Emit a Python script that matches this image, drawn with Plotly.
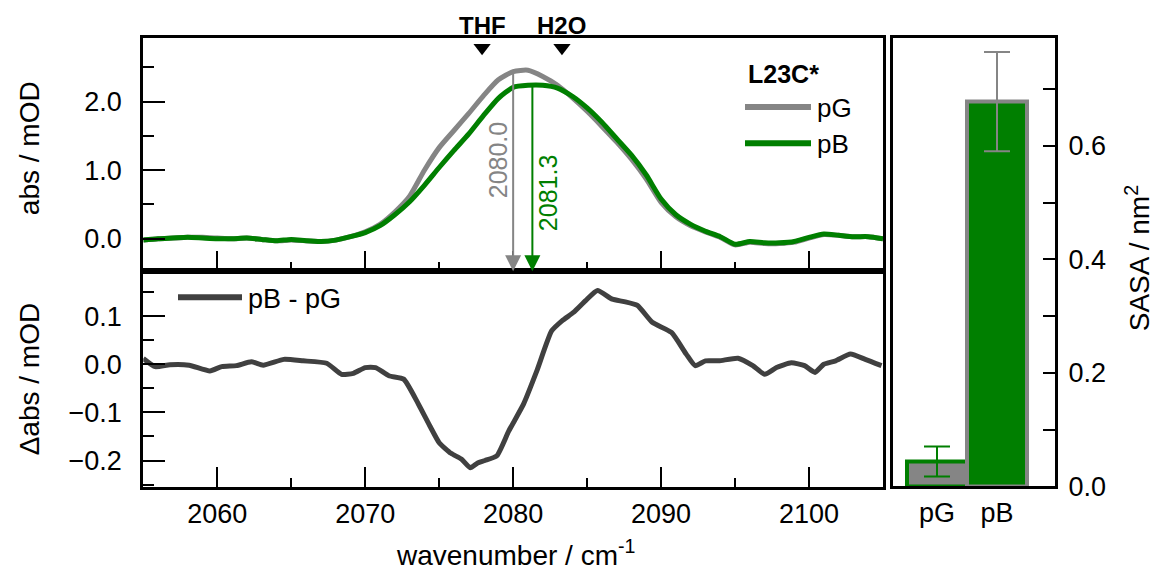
import numpy as np
import plotly.graph_objects as go

# ---------------- data ----------------
wavenumber = list(range(2055, 2106))
abs_pG = [-0.02, 0.0, 0.01, 0.02, 0.02, 0.01, 0.0, 0.01, -0.01, -0.03,
          -0.02, -0.03, -0.04, -0.02, 0.03, 0.10, 0.21, 0.39, 0.62, 1.00,
          1.33, 1.58, 1.83, 2.09, 2.32, 2.44, 2.46, 2.37, 2.24, 2.06,
          1.86, 1.64, 1.41, 1.16, 0.87, 0.53, 0.32, 0.19, 0.10, 0.02,
          -0.09, -0.05, -0.07, -0.07, -0.05, 0.01, 0.06, 0.05, 0.03, 0.03, 0.0]
abs_pB = [-0.02, 0.0, 0.01, 0.02, 0.01, 0.0, 0.0, 0.01, -0.01, -0.03,
          -0.01, -0.03, -0.04, -0.02, 0.03, 0.09, 0.19, 0.35, 0.54, 0.78,
          1.04, 1.29, 1.53, 1.80, 2.05, 2.21, 2.24, 2.24, 2.20, 2.08,
          1.91, 1.70, 1.46, 1.22, 0.93, 0.58, 0.35, 0.21, 0.11, 0.03,
          -0.08, -0.04, -0.06, -0.06, -0.04, 0.02, 0.07, 0.05, 0.03, 0.03, 0.0]

diff_wn = [2055.0, 2055.8, 2056.8, 2058.1, 2059.5, 2060.3, 2061.3, 2062.3, 2063.1,
           2064.5, 2065.8, 2067.4, 2068.4, 2069.2, 2070.0, 2070.7, 2071.6, 2072.6,
           2073.6, 2074.4, 2075.0, 2075.8, 2076.5, 2077.1, 2077.6, 2078.1, 2078.9,
           2079.7, 2080.7, 2081.6, 2082.6, 2083.3, 2084.1, 2084.9, 2085.7, 2086.7,
           2087.5, 2088.4, 2089.4, 2090.7, 2091.7, 2092.3, 2093.0, 2093.9, 2095.2,
           2096.2, 2097.0, 2097.8, 2098.8, 2099.7, 2100.4, 2101.0, 2101.8, 2102.8,
           2103.8, 2104.9]
diff_val = [0.012, -0.005, -0.001, -0.002, -0.014, -0.005, -0.003, 0.005, -0.002,
            0.010, 0.007, 0.002, -0.021, -0.019, -0.007, -0.007, -0.024, -0.031,
            -0.083, -0.130, -0.163, -0.185, -0.197, -0.215, -0.205, -0.200, -0.190,
            -0.139, -0.083, -0.014, 0.069, 0.090, 0.108, 0.132, 0.153, 0.135,
            0.130, 0.122, 0.087, 0.066, 0.021, -0.003, 0.007, 0.007, 0.0125,
            -0.003, -0.021, -0.007, 0.003, -0.003, -0.017, 0.0, 0.007, 0.021,
            0.010, -0.003]

peak_pos = [2080.0, 2081.3]
peak_labels = ["2080.0", "2081.3"]
solvent_pos = [2077.9, 2083.3]
solvent_names = ["THF", "H2O"]

sasa_cat = ["pG", "pB"]
sasa_val = [0.044, 0.678]
sasa_err = [0.0265, 0.0875]

# ---------------- style ----------------
FONT = "Liberation Sans, Arial, sans-serif"
W, H = 1161, 576
SY = 0.973  # vertical calibration of the photographed page
GRAY = "#858585"
GREEN = "#007f00"
DARK = "#404040"
FS_TICK = 27
FS_TITLE = 28


def fx(p):
    return p / W


def fy(p):
    return 1 - p / (SY * H)


X_L = [fx(143.3), fx(883)]
Y_TOP = [fy(271), fy(38)]
Y_BOT = [fy(487), fy(271)]
X_R = [fx(893), fx(1055)]
Y_R = [fy(486), fy(38)]

fig = go.Figure()

fig.add_trace(go.Scatter(x=wavenumber, y=abs_pG, mode="lines",
                         line=dict(color=GRAY, width=5, shape="spline", smoothing=0.6),
                         xaxis="x", yaxis="y", showlegend=False))
fig.add_trace(go.Scatter(x=wavenumber, y=abs_pB, mode="lines",
                         line=dict(color=GREEN, width=5, shape="spline", smoothing=0.6),
                         xaxis="x", yaxis="y", showlegend=False))
fig.add_trace(go.Scatter(x=diff_wn, y=diff_val, mode="lines",
                         line=dict(color=DARK, width=5, shape="spline", smoothing=0.5),
                         xaxis="x2", yaxis="y2", showlegend=False))
# solvent markers
fig.add_trace(go.Scatter(x=solvent_pos, y=[2.79] * len(solvent_pos), mode="markers",
                         marker=dict(symbol="triangle-down", size=15, color="black"),
                         xaxis="x", yaxis="y", showlegend=False, cliponaxis=False))

# bars
bar_fill = [GRAY, GREEN]
bar_line = [GREEN, GRAY]
for i, cat in enumerate(sasa_cat):
    fig.add_trace(go.Bar(x=[i], y=[sasa_val[i]], width=1.0,
                         marker=dict(color=bar_fill[i], line=dict(color=bar_line[i], width=4)),
                         error_y=dict(type="data", array=[sasa_err[i]], color=bar_line[i],
                                      thickness=2, width=13),
                         xaxis="x3", yaxis="y3", showlegend=False))

tickfont = dict(family=FONT, size=FS_TICK, color="black")
common = dict(showline=True, linewidth=3, linecolor="black", mirror=True,
              showgrid=False, zeroline=False, tickcolor="black", tickwidth=2,
              tickfont=tickfont)

fig.update_layout(
    width=W, height=H, margin=dict(l=0, r=0, t=0, b=0),
    paper_bgcolor="white", plot_bgcolor="white", barmode="overlay",
    font=dict(family=FONT, size=FS_TICK, color="black"),
    xaxis=dict(domain=X_L, anchor="y", range=[2055, 2105], showticklabels=False,
               ticks="inside", ticklen=20, tick0=2060, dtick=10,
               minor=dict(ticks="inside", ticklen=9, dtick=5, tick0=2055,
                          tickcolor="black", tickwidth=2), **common),
    yaxis=dict(domain=Y_TOP, anchor="x", range=[-0.475, 2.93], ticks="inside",
               ticklen=22, dtick=1.0, tick0=0, tickformat=".1f",
               ticklabelstandoff=13,
               minor=dict(ticks="inside", ticklen=11, dtick=0.5, tick0=0,
                          tickcolor="black", tickwidth=2), **common),
    xaxis2=dict(domain=X_L, anchor="y2", range=[2055, 2105], ticks="inside",
                ticklen=20, tick0=2060, dtick=10, ticklabelstandoff=0,
                minor=dict(ticks="inside", ticklen=9, dtick=5, tick0=2055,
                           tickcolor="black", tickwidth=2), **common),
    yaxis2=dict(domain=Y_BOT, anchor="x2", range=[-0.256, 0.193], ticks="inside",
                ticklen=22, dtick=0.1, tick0=0, tickformat=".1f",
                ticklabelstandoff=13,
                minor=dict(ticks="inside", ticklen=11, dtick=0.05, tick0=0,
                           tickcolor="black", tickwidth=2), **common),
    xaxis3=dict(domain=X_R, anchor="y3", range=[-0.733, 1.967], ticks="",
                tickvals=[0, 1], ticktext=sasa_cat, ticklabelstandoff=0, **common),
    yaxis3=dict(domain=Y_R, anchor="x3", side="right", range=[0, 0.79],
                ticks="inside", ticklen=12, dtick=0.2, tick0=0, tickformat=".1f",
                ticklabelstandoff=5,
                minor=dict(ticks="inside", ticklen=12, dtick=0.1, tick0=0,
                           tickcolor="black", tickwidth=2), **common),
)


def note(xp, yp, text, size, color="black", angle=0, xanchor="center"):
    fig.add_annotation(x=fx(xp), y=fy(yp), xref="paper", yref="paper", text=text,
                       textangle=angle, showarrow=False, xanchor=xanchor,
                       yanchor="middle", font=dict(family=FONT, size=size, color=color))


# peak arrows
peak_colors = [GRAY, GREEN]
curves = [abs_pG, abs_pB]
label_dx = [-1.05, 1.03]
label_y = [1.14, 0.66]
for i, pos in enumerate(peak_pos):
    top = float(np.interp(pos, wavenumber, curves[i]))
    fig.add_annotation(x=pos, y=-0.475, ax=pos, ay=top, xref="x", yref="y",
                       axref="x", ayref="y", text="", showarrow=True,
                       arrowhead=2, arrowsize=1.6, arrowwidth=2,
                       arrowcolor=peak_colors[i], standoff=0, startstandoff=0)
    fig.add_annotation(x=pos + label_dx[i], y=label_y[i], xref="x", yref="y",
                       text=peak_labels[i], textangle=-90, showarrow=False,
                       xanchor="center", yanchor="middle",
                       font=dict(family=FONT, size=25, color=peak_colors[i]))

# solvent labels
for pos, name in zip(solvent_pos, solvent_names):
    fig.add_annotation(x=pos, y=fy(25), xref="x", yref="paper", text=f"<b>{name}</b>",
                       showarrow=False, xanchor="center", yanchor="middle",
                       font=dict(family=FONT, size=24, color="black"))

# legend top panel
note(783.5, 74, "<b>L23C*</b>", 25)
for yy, col, name in [(107, GRAY, "pG"), (143, GREEN, "pB")]:
    fig.add_shape(type="line", xref="paper", yref="paper", x0=fx(745), x1=fx(811),
                  y0=fy(yy), y1=fy(yy), line=dict(color=col, width=6))
    note(815, yy + 1, name, 26, xanchor="left")

# legend bottom panel
fig.add_shape(type="line", xref="paper", yref="paper", x0=fx(178), x1=fx(242),
              y0=fy(297), y1=fy(297), line=dict(color=DARK, width=6))
note(246, 299, "pB - pG", 27, xanchor="left")

# axis titles
note(29, 148, "abs / mOD", FS_TITLE, angle=-90)
note(29, 379, "Δabs / mOD", FS_TITLE, angle=-90)
note(515, 552, "wavenumber / cm<sup>-1</sup>", FS_TITLE)
note(1138, 258, "SASA / nm<sup>2</sup>", FS_TITLE, angle=-90)

fig.write_html("out.html", config={"displayModeBar": False},
               post_script="document.body.style.margin='0px';")
